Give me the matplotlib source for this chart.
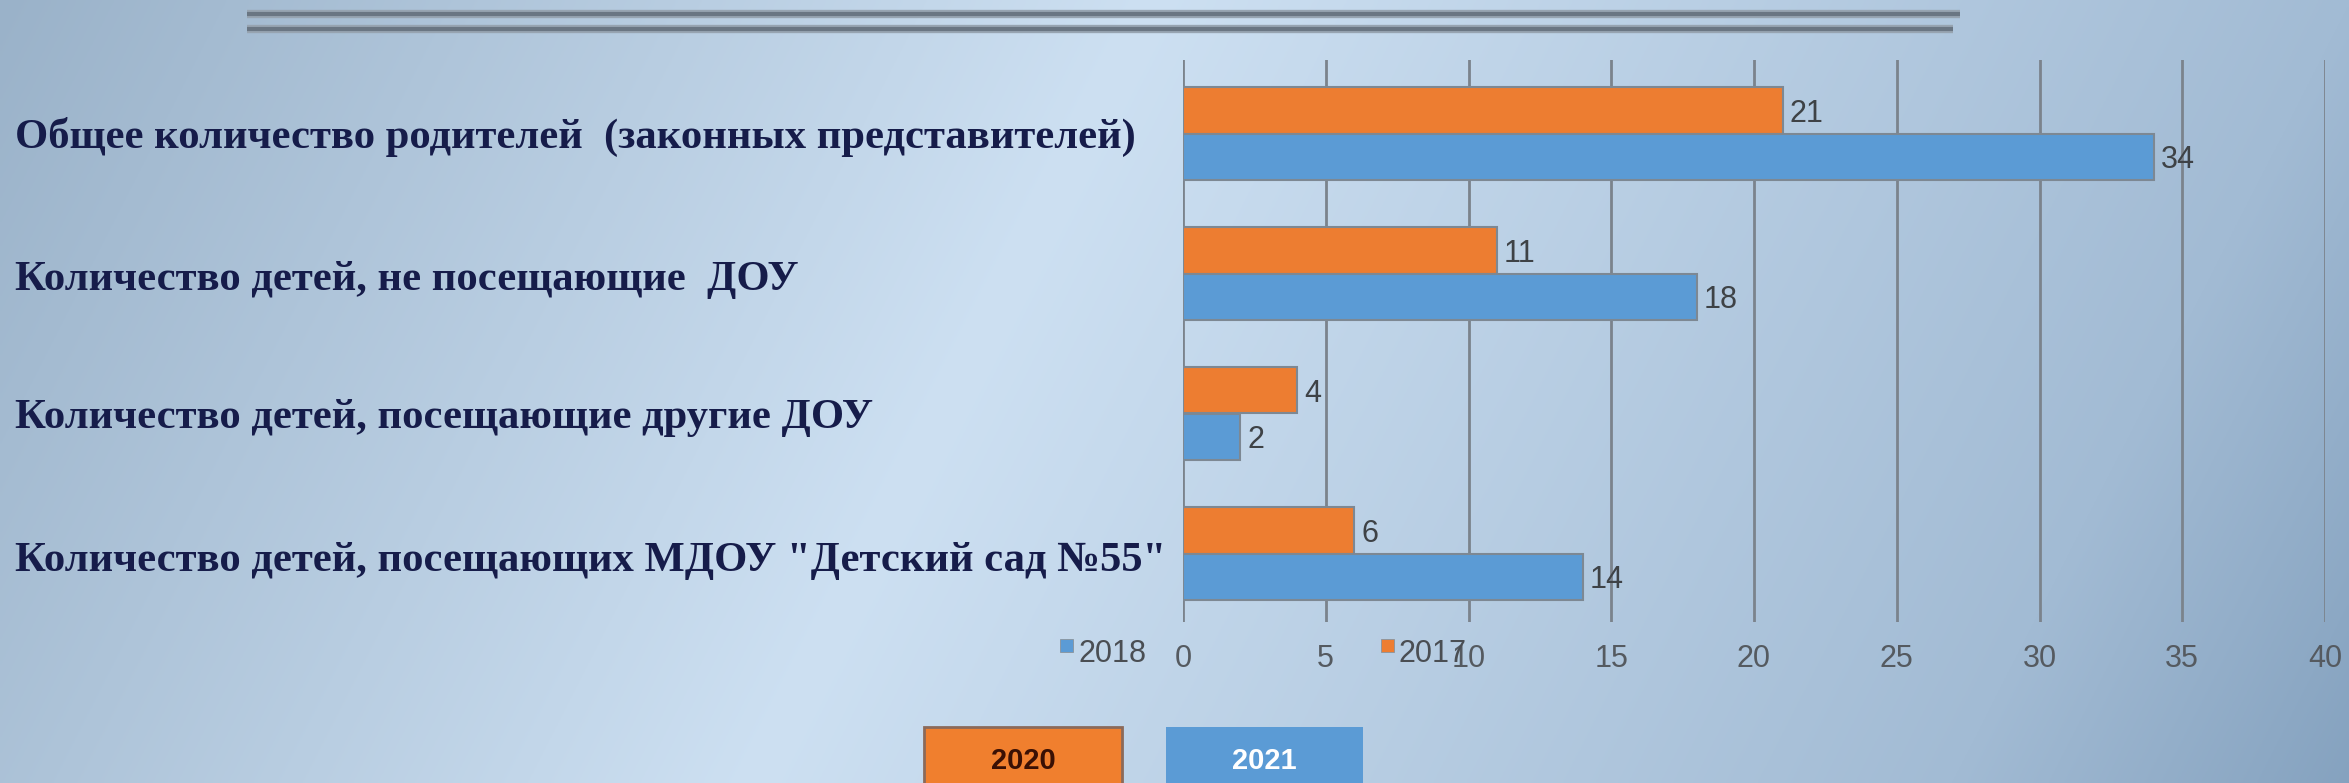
import numpy as np
import matplotlib
matplotlib.use("Agg")
import matplotlib.pyplot as plt
from matplotlib.colors import to_rgb
from matplotlib.lines import Line2D
from matplotlib.patches import Rectangle

# ---------------- data ----------------
categories = [
    'Общее количество родителей  (законных представителей)',
    'Количество детей, не посещающие  ДОУ',
    'Количество детей, посещающие другие ДОУ',
    'Количество детей, посещающих МДОУ "Детский сад №55"',
]
series_2017 = [21, 11, 4, 6]     # orange
series_2018 = [34, 18, 2, 14]    # blue
legend_labels = ['2018', '2017']
box_labels = ['2020', '2021']
x_ticks = [0, 5, 10, 15, 20, 25, 30, 35, 40]

ORANGE = '#ED7D31'
BLUE = '#5B9BD5'

W, H = 2349, 783
DPI = 100
fig = plt.figure(figsize=(W / DPI, H / DPI), dpi=DPI)

def fx(px):
    return px / W

def fy(py):
    return 1 - py / H

# ---------------- background gradient ----------------
bg = fig.add_axes([0, 0, 1, 1], zorder=-10)
bg.set_axis_off()
xx, yy = np.meshgrid(np.arange(0, W, 3), np.arange(0, H, 3))
t = xx + 0.51 * yy
stops_t = [0, 1150, 2349, 2750]
stops_c = [to_rgb('#9ab2c9'), to_rgb('#cde0f2'), to_rgb('#a2bbd4'), to_rgb('#85a2bf')]
img = np.zeros(t.shape + (3,))
for k in range(3):
    img[..., k] = np.interp(t, stops_t, [c[k] for c in stops_c])
bg.imshow(img, extent=[0, 1, 0, 1], aspect='auto', origin='upper')
bg.set_xlim(0, 1)
bg.set_ylim(0, 1)

# ---------------- top double lines ----------------
for (x0, x1, y) in [(247, 1960, 14), (247, 1953, 29)]:
    fig.add_artist(Line2D([fx(x0), fx(x1)], [fy(y), fy(y)], color='#97a4b1',
                          lw=6.0, solid_capstyle='butt', transform=fig.transFigure))
    fig.add_artist(Line2D([fx(x0), fx(x1)], [fy(y), fy(y)], color='#6a7683',
                          lw=3.0, solid_capstyle='butt', transform=fig.transFigure))

# ---------------- chart axes ----------------
ax_left, ax_right, ax_top, ax_bottom = 1183, 2325, 60, 622
ax = fig.add_axes([fx(ax_left), fy(ax_bottom), fx(ax_right - ax_left), (ax_bottom - ax_top) / H])
ax.patch.set_alpha(0)
for s in ax.spines.values():
    s.set_visible(False)

n = len(categories)
ypos = np.arange(n)
spacing_px = 140
bh = 0.332
ax.barh(ypos - bh / 2, series_2017, height=bh, color=ORANGE, edgecolor='#7d8893', lw=1.5, zorder=3)
ax.barh(ypos + bh / 2, series_2018, height=bh, color=BLUE, edgecolor='#7d8893', lw=1.5, zorder=3)

ax.set_xlim(0, 40)
top_off = 73.5 / spacing_px
ax.set_ylim((ax_bottom - ax_top) / spacing_px - top_off, -top_off)
ax.set_xticks(x_ticks)
ax.set_xticklabels([str(v) for v in x_ticks])
ax.set_yticks([])
ax.tick_params(axis='x', length=0, pad=16, labelsize=22, labelcolor='#555a60')
for lab in ax.get_xticklabels():
    lab.set_fontfamily('Liberation Sans')
ax.grid(axis='x', color='#7b838c', lw=2.0, zorder=1)
ax.set_axisbelow(True)

for i in range(n):
    ax.annotate(str(series_2017[i]), (series_2017[i], ypos[i] - bh / 2), xytext=(5, 0),
                textcoords='offset points', va='center_baseline', ha='left', fontsize=22,
                color='#3e4246', family='Liberation Sans', zorder=4)
    ax.annotate(str(series_2018[i]), (series_2018[i], ypos[i] + bh / 2), xytext=(5, 0),
                textcoords='offset points', va='center_baseline', ha='left', fontsize=22,
                color='#3e4246', family='Liberation Sans', zorder=4)

# ---------------- category labels ----------------
label_baselines = [148, 290, 428, 571]
fig.canvas.draw()
renderer = fig.canvas.get_renderer()
probe = fig.text(0, 0, categories[0], fontsize=24, family='Liberation Serif', weight='bold')
w0 = probe.get_window_extent(renderer).width
probe.remove()
cat_size = 24 * 1123 / w0
for lab, yb in zip(categories, label_baselines):
    fig.text(fx(15), fy(yb), lab, fontsize=cat_size, family='Liberation Serif',
             weight='bold', color='#161c4a', va='baseline', ha='left')

# ---------------- legend (manual, as in reference) ----------------
leg_items = [(legend_labels[0], BLUE, 1060, 1079), (legend_labels[1], ORANGE, 1381, 1399)]
for text, col, sx, tx in leg_items:
    fig.add_artist(Rectangle((fx(sx), fy(652)), fx(13), 13 / H, transform=fig.transFigure,
                             facecolor=col, edgecolor='#8a939c', lw=0.6))
    fig.text(fx(tx), fy(650), text, fontsize=22, family='Liberation Sans', color='#4a4e53',
             va='center_baseline', ha='left')

# ---------------- bottom year boxes ----------------
fig.add_artist(Rectangle((fx(924), fy(800)), fx(1122 - 924), (800 - 727) / H,
                         transform=fig.transFigure, facecolor='#F07F2E',
                         edgecolor='#8b6a5a', lw=2.0))
fig.text(fx((924 + 1122) / 2), fy(758), box_labels[0], fontsize=21, weight='bold',
         family='Liberation Sans', color='#3a1004', ha='center', va='center_baseline')
fig.add_artist(Rectangle((fx(1166), fy(800)), fx(1363 - 1166), (800 - 727) / H,
                         transform=fig.transFigure, facecolor=BLUE, edgecolor='none'))
fig.text(fx((1166 + 1363) / 2), fy(758), box_labels[1], fontsize=21, weight='bold',
         family='Liberation Sans', color='white', ha='center', va='center_baseline')

fig.savefig('out.png', dpi=DPI)
